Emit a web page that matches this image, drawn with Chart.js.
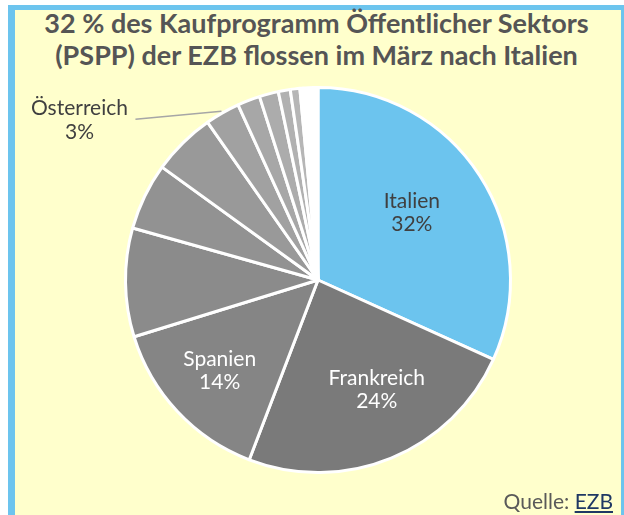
<!DOCTYPE html>
<html>
<head>
<meta charset="utf-8">
<script src="https://cdn.jsdelivr.net/npm/chart.js@4"></script>
<style>
  html, body { margin: 0; padding: 0; width: 624px; height: 515px; overflow: hidden; background: #fff; }
  #frame {
    position: absolute; left: 8px; top: 5px; width: 620px; height: 520px;
    box-sizing: border-box;
    border-left: 7px solid #6cc4ee; border-top: 5px solid #6cc4ee; border-right: 7px solid #6cc4ee;
    background: #ffffcc;
  }
  #title {
    position: absolute; left: 15px; width: 603px; top: 7px;
    text-align: center; color: #555555;
    font-family: Lato, sans-serif; font-weight: 700; font-size: 27px; line-height: 32px;
  }
  #chart { position: absolute; left: 0; top: 0; }
  #source {
    position: absolute; right: 11px; bottom: 2px;
    font-family: Lato, sans-serif; font-size: 21px; color: #595959;
  }
  #source span { color: #1f3864; text-decoration: underline; }
</style>
</head>
<body>
<div id="frame"></div>
<div id="title">32 % des Kaufprogramm Öffentlicher Sektors<br>(PSPP) der EZB flossen im März nach Italien</div>
<canvas id="chart" width="624" height="515"></canvas>
<div id="source">Quelle: <span>EZB</span></div>

<script>
// Anteile am PSPP-Kauf im März (in %), im Uhrzeigersinn ab 12 Uhr
const countries = ['Italien', 'Frankreich', 'Spanien', 'Niederlande', 'Belgien', 'Portugal',
  'Österreich', 'Irland', 'Finnland', 'Slowakei', 'Slowenien', 'Litauen', 'Lettland', 'Luxemburg', 'Zypern'];
const shares = [31.7, 24.0, 14.4, 9.1, 5.6, 5.3, 2.9, 1.9, 1.6, 1.0, 0.8, 0.5, 0.4, 0.3, 0.3];
const sliceColors = ['#6cc4ee', '#7a7a7a', '#858585', '#8b8b8b', '#929292', '#999999',
  '#a1a1a1', '#a7a7a7', '#acacac', '#b1b1b1', '#b6b6b6', '#ffffff', '#ffffff', '#ffffff', '#ffffff'];

// which slices carry a label inside the pie, and how far out (fraction of radius)
const insideLabels = [
  { index: 0, r: 0.58, shift: 0, color: '#404040' },
  { index: 1, r: 0.68, shift: -0.075, color: '#ffffff' },
  { index: 2, r: 0.72, shift: -0.03, color: '#ffffff' }
];
const outsideLabel = { index: 6, color: '#404040' };

const sliceLabels = {
  id: 'sliceLabels',
  afterDatasetsDraw(chart) {
    const ctx = chart.ctx;
    const meta = chart.getDatasetMeta(0);
    const data = chart.data.datasets[0].data;
    const total = data.reduce((a, b) => a + b, 0);
    const pct = i => Math.round(data[i] / total * 100) + '%';

    ctx.save();
    ctx.font = '21px Lato, sans-serif';
    ctx.textAlign = 'center';
    ctx.textBaseline = 'alphabetic';

    insideLabels.forEach(l => {
      const arc = meta.data[l.index];
      const mid = (arc.startAngle + arc.endAngle) / 2 + l.shift;
      const x = arc.x + Math.cos(mid) * arc.outerRadius * l.r;
      const y = arc.y + Math.sin(mid) * arc.outerRadius * l.r;
      ctx.fillStyle = l.color;
      ctx.fillText(chart.data.labels[l.index], x, y - 11.5);
      ctx.fillText(pct(l.index), x, y + 11.5);
    });

    // Österreich: label outside with leader line
    const arc = meta.data[outsideLabel.index];
    const mid = (arc.startAngle + arc.endAngle) / 2;
    const sx = arc.x + Math.cos(mid) * (arc.outerRadius + 2);
    const sy = arc.y + Math.sin(mid) * (arc.outerRadius + 2);
    const ex = sx - 86, ey = sy + 8;
    ctx.strokeStyle = '#a6a6a6';
    ctx.lineWidth = 1.5;
    ctx.beginPath();
    ctx.moveTo(ex, ey);
    ctx.lineTo(sx, sy);
    ctx.stroke();
    ctx.fillStyle = outsideLabel.color;
    ctx.fillText(chart.data.labels[outsideLabel.index], ex - 56, ey - 4);
    ctx.fillText(pct(outsideLabel.index), ex - 56, ey + 20);
    ctx.restore();
  }
};

new Chart(document.getElementById('chart').getContext('2d'), {
  type: 'pie',
  data: {
    labels: countries,
    datasets: [{
      data: shares,
      backgroundColor: sliceColors,
      borderColor: '#ffffff',
      borderWidth: 3
    }]
  },
  options: {
    responsive: false,
    animation: false,
    layout: { padding: { top: 86, bottom: 41, left: 124, right: 112 } },
    plugins: {
      legend: { display: false },
      tooltip: { enabled: false }
    }
  },
  plugins: [sliceLabels]
});
</script>
</body>
</html>
